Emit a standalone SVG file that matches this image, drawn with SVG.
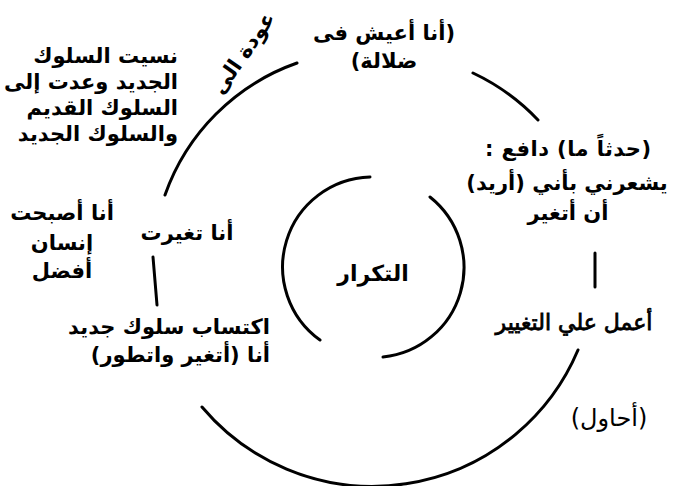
<svg xmlns="http://www.w3.org/2000/svg" width="697" height="486" viewBox="0 0 697 486">
<style>
.t{font-family:"DejaVu Sans",sans-serif;font-size:21px;font-weight:bold;fill:#000;direction:rtl}
.n{font-weight:normal}
.m{font-weight:normal;stroke:#000;stroke-width:0.8px}
.c{text-anchor:middle}
.r{text-anchor:start}
.ln{fill:none;stroke:#000;stroke-width:3;stroke-linecap:round}
</style>
<rect width="697" height="486" fill="#fff"/>
<g id="connectors">
<path class="ln" d="M297,63 A216,216 0 0 0 165,195"/>
<path class="ln" d="M473,73 A217,217 0 0 1 538,120"/>
<path class="ln" d="M202,407 A223,223 0 0 0 578,350"/>
<path class="ln" d="M153,257 L157,305"/>
<path class="ln" d="M595,253 L595,287"/>
<path class="ln" d="M370,177 A90,90 0 0 0 320,340"/>
<path class="ln" d="M430,197 A90,90 0 0 1 383,357"/>
</g>
<g id="n1"><text class="t c" x="384" y="40">(أنا أعيش فى</text><text class="t c" x="384" y="68">ضلالة)</text></g>
<g id="n2"><text class="t c" transform="translate(249,57) rotate(-55)">عودة الى</text></g>
<g id="n3"><text class="t r" x="178" y="63">نسيت السلوك</text><text class="t r" x="178" y="89">الجديد وعدت إلى</text><text class="t r" x="178" y="115">السلوك القديم</text><text class="t r" x="178" y="141">والسلوك الجديد</text></g>
<g id="n4"><text class="t c" x="568" y="156" textLength="166">(حدثاً ما) دافع :</text><text class="t c" x="567" y="190">يشعرني بأني (أريد)</text><text class="t c" x="568" y="220">أن أتغير</text></g>
<g id="n5"><text class="t m c" x="574" y="330" style="font-size:22px">أعمل علي التغيير</text></g>
<g id="n6"><text class="t n c" x="609" y="426" style="font-size:24px">(أحاول)</text></g>
<g id="n7"><text class="t c" x="373" y="281" style="font-size:22px">التكرار</text></g>
<g id="n8"><text class="t c" x="187" y="240">أنا تغيرت</text></g>
<g id="n9"><text class="t c" x="62" y="220">أنا أصبحت</text><text class="t c" x="62" y="250">إنسان</text><text class="t c" x="62" y="278">أفضل</text></g>
<g id="n10"><text class="t r" x="270" y="334">اكتساب سلوك جديد</text><text class="t r" x="270" y="362">أنا (أتغير واتطور)</text></g>
</svg>
